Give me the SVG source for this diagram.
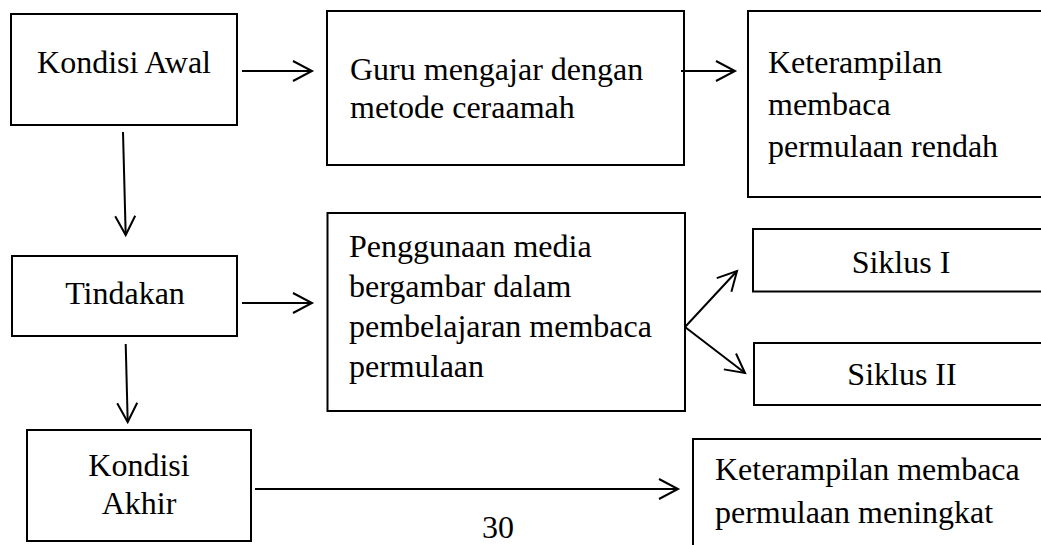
<svg xmlns="http://www.w3.org/2000/svg" width="1041" height="545" viewBox="0 0 1041 545">
<style>
.box{fill:#fff;stroke:#000;stroke-width:2}
.t{font-family:"Liberation Serif","Times New Roman",serif;font-size:32px;fill:#000}
.c{text-anchor:middle}
.ln{fill:none;stroke:#000;stroke-width:2;marker-end:url(#arr)}
</style>
<defs>
<marker id="arr" markerUnits="userSpaceOnUse" markerWidth="26" markerHeight="26" viewBox="-23 -13 26 26" refX="0" refY="0" orient="auto">
<path d="M-19,-10 L0,0 L-19,10" fill="none" stroke="#000" stroke-width="2"/>
</marker>
</defs>
<rect width="1041" height="545" fill="#fff"/>
<g id="n-kondisi-awal"><rect class="box" x="11" y="14" width="226" height="111"/><text class="t c" x="124" y="73">Kondisi Awal</text></g>
<g id="n-guru"><rect class="box" x="327" y="11" width="357" height="154"/><text class="t" x="350" y="80">Guru mengajar dengan</text><text class="t" x="350" y="118">metode ceraamah</text></g>
<g id="n-rendah"><rect class="box" x="748" y="11" width="320" height="186"/><text class="t" x="768" y="73">Keterampilan</text><text class="t" x="768" y="115">membaca</text><text class="t" x="768" y="157">permulaan rendah</text></g>
<g id="n-tindakan"><rect class="box" x="12" y="256" width="225" height="80"/><text class="t c" x="125" y="304">Tindakan</text></g>
<g id="n-penggunaan"><rect class="box" x="327.5" y="213" width="357.5" height="198"/><text class="t" x="349" y="257">Penggunaan media</text><text class="t" x="349" y="297">bergambar dalam</text><text class="t" x="349" y="337">pembelajaran membaca</text><text class="t" x="349" y="377">permulaan</text></g>
<g id="n-siklus1"><rect class="box" x="753" y="229" width="320" height="62.5"/><text class="t c" x="901" y="273">Siklus I</text></g>
<g id="n-siklus2"><rect class="box" x="754" y="343" width="320" height="62"/><text class="t c" x="902" y="385">Siklus II</text></g>
<g id="n-kondisi-akhir"><rect class="box" x="27" y="430" width="224" height="111"/><text class="t c" x="139" y="476">Kondisi</text><text class="t c" x="139" y="514">Akhir</text></g>
<g id="n-meningkat"><rect class="box" x="693" y="439" width="380" height="130"/><text class="t" x="715" y="480">Keterampilan membaca</text><text class="t" x="715" y="523">permulaan meningkat</text></g>
<g id="connectors">
<path class="ln" d="M242,71 L312,71"/>
<path class="ln" d="M681,71 L735,71"/>
<path class="ln" d="M123,132 L125.7,235"/>
<path class="ln" d="M242,303 L312,303"/>
<path class="ln" d="M125.7,344 L127.7,422"/>
<path class="ln" d="M685,327 L737,271"/>
<path class="ln" d="M685,327 L745,373"/>
<path class="ln" d="M255,489 L678,489"/>
</g>
<text class="t c" x="498" y="538">30</text>
</svg>
